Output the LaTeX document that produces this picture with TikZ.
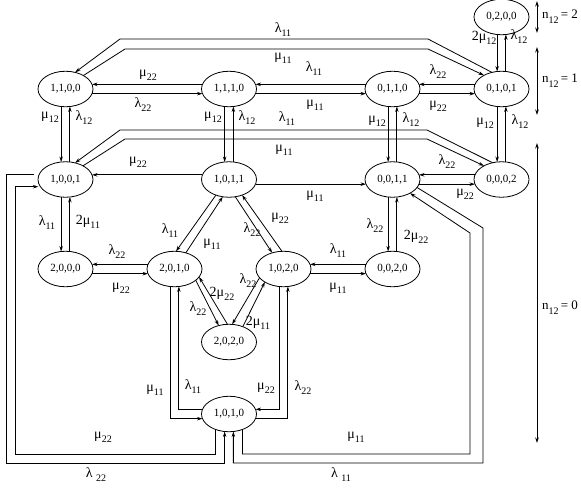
\documentclass[tikz,border=0pt]{standalone}
\usepackage{fontspec}
\setmainfont{Liberation Serif}
\usetikzlibrary{arrows.meta,shapes.geometric}
\newcommand{\gl}[2]{{\fontsize{14}{14}\selectfont #1}\raisebox{-4pt}{\fontsize{10}{10}\selectfont #2}}
\newcommand{\nlab}[1]{{\fontsize{13}{13}\selectfont n}\raisebox{-5pt}{\fontsize{10}{10}\selectfont 12}{\fontsize{13}{13}\selectfont\,= #1}}
\begin{document}
\begin{tikzpicture}[x=1pt,y=-1pt,
  st/.style={ellipse, draw, line width=0.8pt, minimum width=55pt, minimum height=35.5pt, inner sep=0pt, outer sep=0pt, font=\fontsize{11}{11}\selectfont},
  arr/.style={line width=0.8pt, -{Stealth[length=5.5pt,width=3.5pt]}},
  ln/.style={line width=0.8pt},
  dbl/.style={line width=0.8pt, {Stealth[length=5.5pt,width=3.5pt]}-{Stealth[length=5.5pt,width=3.5pt]}},
  lb/.style={inner sep=0pt, anchor=center}]
\useasboundingbox (0,0) rectangle (581,490);
% states
\node[st] (n0200) at (501.5,17) {0,2,0,0};
\node[st] (n1100) at (65.5,89) {1,1,0,0};
\node[st] (n1110) at (229,89) {1,1,1,0};
\node[st] (n0110) at (392.5,89) {0,1,1,0};
\node[st] (n0101) at (501.5,89) {0,1,0,1};
\node[st] (n1001) at (65.5,179.5) {1,0,0,1};
\node[st] (n1011) at (229,179.5) {1,0,1,1};
\node[st] (n0011) at (392.5,179.5) {0,0,1,1};
\node[st] (n0002) at (501.5,179.5) {0,0,0,2};
\node[st] (n2000) at (65.5,269) {2,0,0,0};
\node[st] (n2010) at (174.5,269) {2,0,1,0};
\node[st] (n1020) at (283.5,269) {1,0,2,0};
\node[st] (n0020) at (392.5,269) {0,0,2,0};
\node[st] (n2020) at (229,342) {2,0,2,0};
\node[st] (n1010) at (229,414) {1,0,1,0};
% row 1 horizontals
\draw[arr] (n1110.170) -- (n1100.10);
\draw[arr] (n1100.350) -- (n1110.190);
\draw[arr] (n0110.170) -- (n1110.10);
\draw[arr] (n1110.350) -- (n0110.190);
\draw[arr] (n0101.170) -- (n0110.10);
\draw[arr] (n0110.350) -- (n0101.190);
% row 2 horizontals
\draw[arr] (n1011.170) -- (n1001.10);
\draw[arr] (n1011.350) -- (n0011.190);
\draw[arr] (n0002.170) -- (n0011.10);
\draw[arr] (n0011.350) -- (n0002.190);
% row 3 horizontals
\draw[arr] (n2010.170) -- (n2000.10);
\draw[arr] (n2000.350) -- (n2010.190);
\draw[arr] (n0020.170) -- (n1020.10);
\draw[arr] (n1020.350) -- (n0020.190);
% verticals
\draw[arr] (n0200.256) -- (n0101.104);
\draw[arr] (n0101.76) -- (n0200.284);
\draw[arr] (n0101.256) -- (n0002.104);
\draw[arr] (n0002.76) -- (n0101.284);
\draw[arr] (n0110.256) -- (n0011.104);
\draw[arr] (n0011.76) -- (n0110.284);
\draw[arr] (n1110.256) -- (n1011.104);
\draw[arr] (n1011.76) -- (n1110.284);
\draw[arr] (n1100.256) -- (n1001.104);
\draw[arr] (n1001.76) -- (n1100.284);
\draw[arr] (n1001.256) -- (n2000.104);
\draw[arr] (n2000.76) -- (n1001.284);
\draw[arr] (n0011.256) -- (n0020.104);
\draw[arr] (n0020.76) -- (n0011.284);
% long upper connectors
\draw[arr] (n0101.120) -- (428,39) -- (120,39) -- (n1100.60);
\draw[arr] (n1100.37) -- (125,49) -- (428,49) -- (n0101.142);
\draw[arr] (n0002.118) -- (427,130) -- (120,130) -- (n1001.60);
\draw[arr] (n1001.38) -- (125,139) -- (427,139) -- (n0002.142);
% triangle
\draw[arr] (n1011.230) -- (n2010.85);
\draw[arr] (n2010.55) -- (n1011.250);
\draw[arr] (n1011.290) -- (n1020.125);
\draw[arr] (n1020.95) -- (n1011.310);
\draw[arr] (n2010.-28) -- (n2020.122);
\draw[arr] (n2020.95) -- (n2010.-18);
\draw[arr] (n1020.200) -- (n2020.80);
\draw[arr] (n2020.48) -- (n1020.215);
% around 1,0,1,0
\draw[arr] (n2010.256) |- (n1010.190);
\draw[arr] (n1010.170) -| (n2010.284);
\draw[arr] (n1020.256) |- (n1010.10);
\draw[arr] (n1010.350) -| (n1020.284);
% big loops
\draw[arr] ([xshift=-5pt]n1001.170) -| (6,463) -| (n1010.256);
\draw[arr] (n1010.229) |- (15,454) |- ([xshift=-2pt]n1001.196);
\draw[arr] (n0011.-18) -- (483,228) -- (483,463) -| (n1010.284);
\draw[arr] (n1010.311) |- (470,454) -- (470,233) -- (n0011.-38);
% labels
\node[lb] (a1) at (148,75) {\gl{μ}{22}};
\node[lb] (a2) at (143,105) {\gl{λ}{22}};
\node[lb] (a3) at (314,69) {\gl{λ}{11}};
\node[lb] (a4) at (315,105) {\gl{μ}{11}};
\node[lb] (a5) at (438,72) {\gl{λ}{22}};
\node[lb] (a6) at (438,106) {\gl{μ}{22}};
\node[lb] (a7) at (484,38) {\gl{2μ}{12}};
\node[lb] (a8) at (519,37) {\gl{λ}{12}};
\node[lb] (a9) at (485,123) {\gl{μ}{12}};
\node[lb] (a10) at (520,122) {\gl{λ}{12}};
\node[lb] (a11) at (377,121) {\gl{μ}{12}};
\node[lb] (a12) at (411,120) {\gl{λ}{12}};
\node[lb] (a13) at (213,117) {\gl{μ}{12}};
\node[lb] (a14) at (247,118) {\gl{λ}{12}};
\node[lb] (a15) at (50,117) {\gl{μ}{12}};
\node[lb] (a16) at (84,118) {\gl{λ}{12}};
\node[lb] (a17) at (283,30) {\gl{λ}{11}};
\node[lb] (a18) at (283,58) {\gl{μ}{11}};
\node[lb] (a19) at (287,119) {\gl{λ}{11}};
\node[lb] (a20) at (284,150) {\gl{μ}{11}};
\node[lb] (a21) at (138,162) {\gl{μ}{22}};
\node[lb] (a22) at (315,196) {\gl{μ}{11}};
\node[lb] (a23) at (447,162) {\gl{λ}{22}};
\node[lb] (a24) at (465,194) {\gl{μ}{22}};
\node[lb] (a25) at (47,223) {\gl{λ}{11}};
\node[lb] (a26) at (88,222) {\gl{2μ}{11}};
\node[lb] (a27) at (117,252) {\gl{λ}{22}};
\node[lb] (a28) at (121,288) {\gl{μ}{22}};
\node[lb] (a29) at (170,231) {\gl{λ}{11}};
\node[lb] (a30) at (212,244) {\gl{μ}{11}};
\node[lb] (a31) at (252,230) {\gl{λ}{22}};
\node[lb] (a32) at (280,218) {\gl{μ}{22}};
\node[lb] (a33) at (338,251) {\gl{λ}{11}};
\node[lb] (a34) at (338,288) {\gl{μ}{11}};
\node[lb] (a35) at (375,226) {\gl{λ}{22}};
\node[lb] (a36) at (416,237) {\gl{2μ}{22}};
\node[lb] (a37) at (198,309) {\gl{λ}{22}};
\node[lb] (a38) at (222,294) {\gl{2μ}{22}};
\node[lb] (a39) at (248,281) {\gl{λ}{22}};
\node[lb] (a40) at (258,323) {\gl{2μ}{11}};
\node[lb] (a41) at (155,390) {\gl{μ}{11}};
\node[lb] (a42) at (193,387) {\gl{λ}{11}};
\node[lb] (a43) at (266,388) {\gl{μ}{22}};
\node[lb] (a44) at (303,388) {\gl{λ}{22}};
\node[lb] (a45) at (103,437) {\gl{μ}{22}};
\node[lb] (a46) at (96,475) {\gl{λ~}{22}};
\node[lb] (a47) at (356,437) {\gl{μ}{11}};
\node[lb] (a48) at (341,475) {\gl{λ~}{11}};
% n12 levels
\coordinate (t2) at (537,1);
\coordinate (b2) at (537,33);
\coordinate (t1) at (537,47);
\coordinate (b1) at (537,115);
\coordinate (t0) at (537,143);
\coordinate (b0) at (537,443);
\draw[dbl] (t2) -- (b2);
\draw[dbl] (t1) -- (b1);
\draw[dbl] (t0) -- (b0);
\node[lb] (m2) at (560,17) {\nlab{2}};
\node[lb] (m1) at (560,81) {\nlab{1}};
\node[lb] (m0) at (560,308) {\nlab{0}};
\end{tikzpicture}
\end{document}
